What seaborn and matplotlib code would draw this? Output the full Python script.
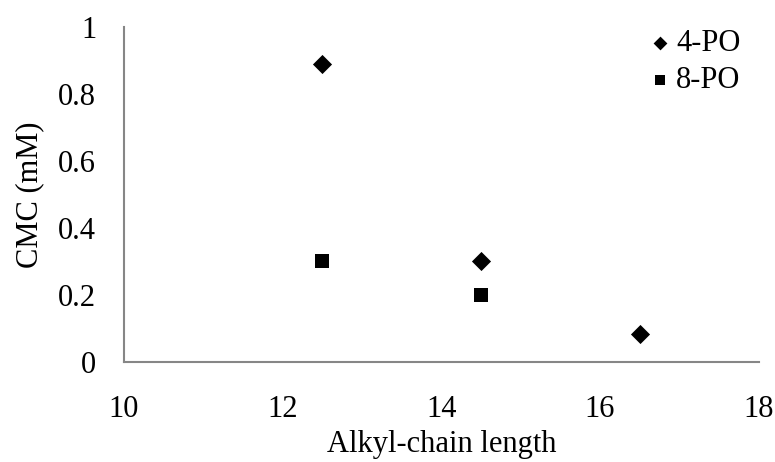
import matplotlib
matplotlib.use("Agg")
import matplotlib.pyplot as plt
import seaborn as sns
import pandas as pd
from matplotlib.ticker import FuncFormatter

# CMC values for the two propylene-oxide series
chain_4po = [12.5, 14.5, 16.5]
cmc_4po = [0.89, 0.30, 0.084]
chain_8po = [12.5, 14.5]
cmc_8po = [0.30, 0.20]
series_names = ["4-PO", "8-PO"]
x_ticks = [10, 12, 14, 16, 18]
y_ticks = [0, 0.2, 0.4, 0.6, 0.8, 1]

df = pd.DataFrame({
    "chain": chain_4po + chain_8po,
    "cmc": cmc_4po + cmc_8po,
    "series": [series_names[0]] * len(chain_4po) + [series_names[1]] * len(chain_8po),
})

sns.set_theme(style="white")
plt.rcParams["font.family"] = ["Liberation Serif", "DejaVu Serif"]
plt.rcParams["text.color"] = "black"
plt.rcParams["axes.labelcolor"] = "black"
FS = 22

fig = plt.figure(figsize=(7.75, 4.62), dpi=100)
ax = fig.add_axes([0.16, 0.2165, 0.819, 0.7255])

d4 = df[df["series"] == series_names[0]]
d8 = df[df["series"] == series_names[1]]
sns.scatterplot(data=d4, x="chain", y="cmc", marker="D", s=95, color="black",
                edgecolor="black", linewidth=0, label=series_names[0], ax=ax)
sns.scatterplot(data=d8, x="chain", y="cmc", marker="s", s=90, color="black",
                edgecolor="black", linewidth=0, label=series_names[1], ax=ax)

ax.set_xlim(10, 18)
ax.set_ylim(0, 1)
ax.set_xticks(x_ticks)
ax.set_yticks(y_ticks)
ax.yaxis.set_major_formatter(FuncFormatter(lambda v, p: f"{v:g}"))
ax.tick_params(axis="both", length=0, labelsize=FS, colors="black")
ax.tick_params(axis="y", pad=20)
ax.tick_params(axis="x", pad=24)

for side in ["top", "right"]:
    ax.spines[side].set_visible(False)
for side in ["left", "bottom"]:
    ax.spines[side].set_color("#868686")
    ax.spines[side].set_linewidth(1.5)

ax.set_xlabel("Alkyl-chain length", fontsize=FS, labelpad=4)
ax.set_ylabel("CMC (mM)", fontsize=FS, labelpad=10)

leg = ax.legend(loc="upper right", bbox_to_anchor=(1.0, 1.048), frameon=False,
                fontsize=FS, handletextpad=0.02, labelspacing=0.25,
                handlelength=1.0, borderaxespad=0.2, markerscale=0.72)

fig.savefig("out.png", dpi=100, facecolor="white")
